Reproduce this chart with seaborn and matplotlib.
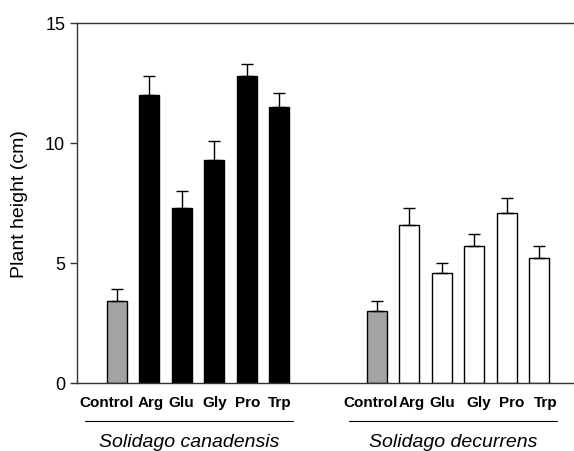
import numpy as np
import pandas as pd
import matplotlib
matplotlib.use("Agg")
import matplotlib.pyplot as plt
import matplotlib.transforms as mtransforms
import seaborn as sns

# Dados
treatments = ["Control", "Arg", "Glu", "Gly", "Pro", "Trp"]
species = ["Solidago canadensis", "Solidago decurrens"]
canadensis_mean = [3.4, 12.0, 7.3, 9.3, 12.8, 11.5]
canadensis_se = [0.5, 0.8, 0.7, 0.8, 0.5, 0.6]
decurrens_mean = [3.0, 6.6, 4.6, 5.7, 7.1, 5.2]
decurrens_se = [0.4, 0.7, 0.4, 0.5, 0.6, 0.5]

sns.set_style("ticks")
plt.rcParams["font.family"] = ["Liberation Sans", "DejaVu Sans"]
plt.rcParams["text.color"] = "black"
plt.rcParams["axes.labelcolor"] = "black"

n = len(treatments)
gap = 2
rows = []
for g, (sp, means, ses) in enumerate(zip(species, [canadensis_mean, decurrens_mean],
                                         [canadensis_se, decurrens_se])):
    for i, t in enumerate(treatments):
        rows.append({
            "pos": g * (n + gap) + i,
            "treatment": t,
            "species": sp,
            "height": means[i],
            "se": ses[i],
            "kind": "control" if t == "Control" else sp,
        })
df = pd.DataFrame(rows)

palette = {"control": "#a3a3a3", species[0]: "black", species[1]: "white"}

fig = plt.figure(figsize=(5.74, 4.52), dpi=100)
ax = fig.add_axes([77 / 574, 68 / 452, 497 / 574, 360 / 452])

sns.barplot(data=df, x="pos", y="height", hue="kind", palette=palette,
            native_scale=True, dodge=False, width=0.62, legend=False,
            edgecolor="black", linewidth=1.0, errorbar=None, ax=ax)

ax.errorbar(df["pos"], df["height"], yerr=[np.zeros(len(df)), df["se"]],
            fmt="none", ecolor="black", elinewidth=1.0, capsize=4.3, capthick=1.0)

ax.set_xlim(-1.22, 14.07)
ax.set_ylim(0, 15)
ax.set_yticks([0, 5, 10, 15])
ax.tick_params(axis="y", labelsize=13, length=5, width=1, direction="out",
               colors="#333333", labelcolor="black")
ax.set_ylabel("Plant height (cm)", fontsize=14)
ax.yaxis.set_label_coords(-0.099, 0.5)
ax.set_xlabel("")
ax.set_xticks(df["pos"])
ax.set_xticklabels(df["treatment"], fontsize=11, fontweight="bold")
ax.tick_params(axis="x", length=0, pad=9, labelcolor="black")

# pequenos deslocamentos dos rótulos (px), como no original
label_shift = [-10, 2, 0, 1, 1, 1, -6, 2, 1, 5, 5, 6]
for lab, dx in zip(ax.get_xticklabels(), label_shift):
    lab.set_transform(lab.get_transform() +
                      mtransforms.ScaledTranslation(dx / 100, 0, fig.dpi_scale_trans))

for side in ["left", "top", "bottom"]:
    ax.spines[side].set_linewidth(1.0)
    ax.spines[side].set_color("#333333")
ax.spines["right"].set_visible(False)

# Linhas e nomes dos grupos
line_ext = [(-0.975, 5.42), (-0.85, 5.55)]
for g, sp in enumerate(species):
    x0 = g * (n + gap) + line_ext[g][0]
    x1 = g * (n + gap) + line_ext[g][1]
    ax.plot([x0, x1], [-1.58, -1.58], color="black", lw=0.8, clip_on=False)
    ax.text((x0 + x1) / 2, -2.42, sp, ha="center", va="center",
            fontsize=14, fontstyle="italic")

fig.savefig("out.png", dpi=100)
